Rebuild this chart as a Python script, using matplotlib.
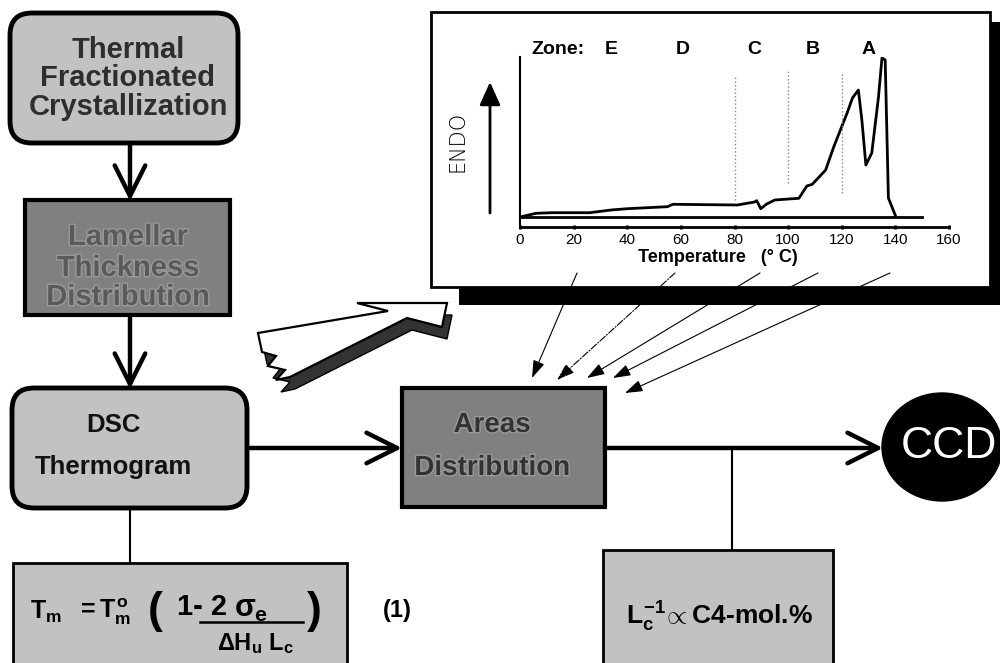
import matplotlib
matplotlib.use("Agg")
import matplotlib.pyplot as plt
import matplotlib.patheffects as pe
from matplotlib.patches import Rectangle, FancyBboxPatch, FancyArrowPatch, Ellipse, Polygon

plt.rcParams['font.family'] = ['Liberation Sans', 'DejaVu Sans']
plt.rcParams['mathtext.fontset'] = 'custom'
plt.rcParams['mathtext.rm'] = 'Liberation Sans:bold'
plt.rcParams['mathtext.it'] = 'Liberation Sans:bold'
plt.rcParams['mathtext.bf'] = 'Liberation Sans:bold'

# DSC thermogram (inset)
temp = [0, 6, 12, 26, 34, 40, 55, 57, 81, 87.5, 88.3, 89.8, 92, 95, 104, 107, 109,
        114, 117, 122, 124, 126.2, 127.5, 129, 131.2, 133.7, 135, 136.2, 137.4, 140]
endo = [0, 3.7, 4.3, 4.3, 7, 8.3, 10.3, 12.7, 12, 15, 16.3, 8.3, 13, 17, 18.7, 31, 32.7,
        47, 70, 104, 119, 127, 97, 52, 64, 120, 159, 157, 19, 1.5]
base_temp = [0, 150]
base_endo = [0, 0]
xticks = [0, 20, 40, 60, 80, 100, 120, 140, 160]
zone_names = ["Zone:", "E", "D", "C", "B", "A"]
zone_bounds = [80, 100, 120]
zone_line_top = [140, 147, 144]
zone_line_bot = [17, 34, 24]

box1_lines = ["Thermal", "Fractionated", "Crystallization"]
box2_lines = ["Lamellar", "Thickness", "Distribution"]
box3_lines = ["DSC", "Thermogram"]
box5_lines = ["Areas", "Distribution"]
box6_text = r"$L_c^{-1}\!\propto$C4-mol.%"

light = '#c2c2c2'
dark = '#808080'

fig = plt.figure(figsize=(10, 6.63), dpi=100)
ax = fig.add_axes([0, 0, 1, 1])
ax.set_xlim(0, 1000)
ax.set_ylim(663, 0)
ax.axis('off')


def box(x0, y0, x1, y1, fc, lw, rounded=False):
    if rounded:
        p = FancyBboxPatch((x0, y0), x1 - x0, y1 - y0, boxstyle="round,pad=0,rounding_size=22",
                           fc=fc, ec='black', lw=lw, zorder=2)
    else:
        p = Rectangle((x0, y0), x1 - x0, y1 - y0, fc=fc, ec='black', lw=lw, zorder=2)
    ax.add_patch(p)


def flow_arrow(x0, y0, x1, y1):
    ax.add_patch(FancyArrowPatch((x0, y0), (x1, y1),
                                 arrowstyle='->,head_length=1.1,head_width=0.55',
                                 mutation_scale=20, lw=3.2, color='black',
                                 shrinkA=0, shrinkB=0, zorder=3))


def lines_text(x, ys, lines, size, color, halo=None):
    for y, s in zip(ys, lines):
        t = ax.text(x, y, s, ha='center', va='center', fontsize=size,
                    fontweight='bold', color=color, zorder=4)
        if halo:
            t.set_path_effects([pe.withStroke(linewidth=2, foreground=halo)])


# left column
box(10, 13, 238, 143, light, 3.5, rounded=True)
lines_text(128, [50, 78, 107], box1_lines, 21, '#2e2e2e')
flow_arrow(130, 143, 130, 201)
box(25, 200, 230, 315, dark, 3)
lines_text(128, [237, 268, 297], box2_lines, 21, '#5a5a5a', halo='#9a9a9a')
flow_arrow(130, 315, 130, 389)
box(12, 388, 247, 508, light, 3.5, rounded=True)
lines_text(113, [425, 467], box3_lines, 18.5, '#111111')
ax.plot([130, 130], [508, 563], color='black', lw=1.5, zorder=1)

# formula box
box(13, 563, 347, 680, light, 2)
ax.text(30, 612, r"$T_m$", ha='left', va='center', fontsize=18, zorder=4)
ax.text(76, 612, r"$=T^{o}_{m}$", ha='left', va='center', fontsize=18, zorder=4)
ax.text(155, 612, "(", ha='center', va='center', fontsize=32, fontweight='bold', zorder=4)
ax.text(177, 607, "1- 2", ha='left', va='center', fontsize=21, fontweight='bold', zorder=4)
ax.text(234, 609, r"$\sigma_e$", ha='left', va='center', fontsize=22, zorder=4)
ax.plot([200, 303], [622, 622], color='black', lw=1.8, zorder=4)
ax.text(255, 644, r"$\Delta H_u\ L_c$", ha='center', va='center', fontsize=17, zorder=4)
ax.text(314, 612, ")", ha='center', va='center', fontsize=32, fontweight='bold', zorder=4)
ax.text(397, 610, "(1)", ha='center', va='center', fontsize=17, fontweight='bold')

# middle / right flow
flow_arrow(247, 448, 402, 448)
box(402, 388, 605, 507, dark, 3)
lines_text(492, [425, 468], box5_lines, 20, '#333333', halo='#9a9a9a')
flow_arrow(605, 448, 883, 448)
ax.plot([732, 732], [448, 550], color='black', lw=1.5, zorder=1)
box(603, 550, 833, 680, light, 2)
ax.text(720, 617, box6_text, ha='center', va='center', fontsize=19, fontweight='bold', zorder=4)

ax.add_patch(Ellipse((942, 447), 120, 108, fc='black', ec='black', zorder=2))
ax.text(949, 447, "CCD", ha='center', va='center', fontsize=32, color='white', zorder=4)

# big hollow arrow pointing at the thermogram
face = [(258, 333), (388, 311), (357, 303), (447, 303), (442, 327), (407, 318),
        (290, 377), (276, 380), (285, 370), (268, 366), (276, 356), (262, 352)]
shadow = [(x + 5, y + 12) for x, y in face]
ax.add_patch(Polygon(shadow, closed=True, fc='#333333', ec='black', lw=1, zorder=2))
ax.add_patch(Polygon(face, closed=True, fc='white', ec='black', lw=1.6, zorder=3))

# inset frame and shadow
ax.add_patch(Rectangle((431, 12), 559, 275, fc='white', ec='black', lw=2, zorder=1))
ax.add_patch(Rectangle((459, 287), 541, 18, fc='black', ec='none', zorder=6))
ax.add_patch(Rectangle((990, 22), 10, 283, fc='black', ec='none', zorder=6))

# thin arrows from zones to the areas box
starts = [(577, 273), (675, 273), (760, 273), (818, 273), (890, 273)]
ends = [(532, 378), (557, 380), (587, 378), (613, 378), (625, 393)]
styles = ['-', '-.', '-', '-', '-']
for (x0, y0), (x1, y1), ls in zip(starts, ends, styles):
    ax.add_patch(FancyArrowPatch((x0, y0), (x1, y1), arrowstyle='-|>,head_length=0.9,head_width=0.3',
                                 mutation_scale=12, lw=0.8, color='black', linestyle=ls,
                                 shrinkA=0, shrinkB=0, zorder=5))

ax.text(457, 141, "ENDO", rotation=90, ha='center', va='center', fontsize=15,
        family=['Liberation Sans Narrow', 'DejaVu Sans'], fontweight='light')
ax.add_patch(FancyArrowPatch((490, 213), (490, 82), arrowstyle='-|>,head_length=1.0,head_width=0.45',
                             mutation_scale=14, lw=2, color='black', shrinkA=0, shrinkB=0, zorder=5))

# inset thermogram
ax_in = fig.add_axes([0.52, 1 - 227 / 663, 0.429, 170 / 663])
ax_in.patch.set_alpha(0)
ax_in.plot(temp, endo, color='black', lw=2)
ax_in.plot(base_temp, base_endo, color='black', lw=2)
for t, lo, hi in zip(zone_bounds, zone_line_bot, zone_line_top):
    ax_in.plot([t, t], [lo, hi], color='#888888', lw=1, linestyle=':')
ax_in.set_xlim(0, 160)
ax_in.set_ylim(-10, 160)
ax_in.set_xticks(xticks)
ax_in.set_xticklabels([str(v) for v in xticks], fontsize=11)
ax_in.set_yticks([])
ax_in.tick_params(axis='x', length=3, width=2, direction='inout', pad=3)
for s in ['top', 'right']:
    ax_in.spines[s].set_visible(False)
ax_in.spines['bottom'].set_linewidth(2)
ax_in.spines['left'].set_linewidth(1.5)
ax_in.text(0.462, -0.182, "Temperature   (° C)", transform=ax_in.transAxes, ha='center',
           va='center', fontsize=13, fontweight='bold')

zone_pos = [4.1, 34, 60.8, 87.3, 109, 129.9]
for i, (name, t) in enumerate(zip(zone_names, zone_pos)):
    ax_in.text(t, 167, name, ha='left' if i == 0 else 'center', va='center', fontsize=14,
               fontweight='bold', clip_on=False)

fig.savefig("out.png", dpi=100)
